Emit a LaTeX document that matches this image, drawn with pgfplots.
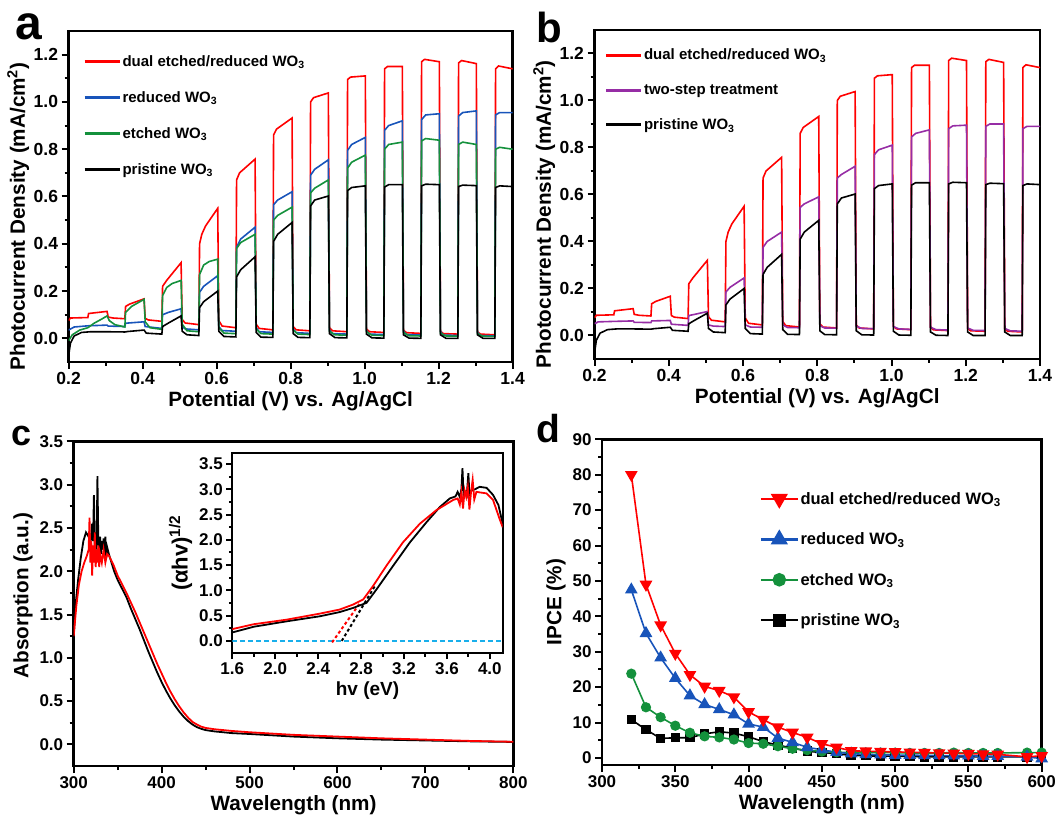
\documentclass[border=0pt]{standalone}
\usepackage{fontspec}
\setmainfont{Liberation Sans}
\usepackage{pgfplots}
\usepackage{pgfplotstable}
\pgfplotsset{compat=1.18}
\definecolor{cred}{RGB}{255,0,0}
\definecolor{cblue}{RGB}{24,84,186}
\definecolor{cgreen}{RGB}{20,145,60}
\definecolor{cpurple}{RGB}{150,45,165}
\definecolor{ccyan}{RGB}{25,175,235}
\newcommand{\fs}[1]{\fontsize{#1}{#1}\selectfont\bfseries}

\pgfplotstableread{
x y
0.200 0.075
0.205 0.086
0.252 0.088
0.254 0.105
0.270 0.108
0.304 0.114
0.307 0.090
0.320 0.086
0.352 0.083
0.354 0.135
0.365 0.145
0.404 0.167
0.407 0.085
0.415 0.078
0.452 0.072
0.454 0.220
0.465 0.245
0.504 0.320
0.507 0.080
0.515 0.065
0.552 0.058
0.554 0.400
0.560 0.440
0.570 0.475
0.603 0.550
0.606 0.075
0.615 0.052
0.652 0.045
0.654 0.670
0.662 0.700
0.704 0.758
0.707 0.060
0.715 0.042
0.752 0.036
0.754 0.860
0.762 0.885
0.804 0.932
0.807 0.050
0.815 0.036
0.852 0.032
0.854 1.000
0.862 1.018
0.902 1.038
0.905 0.045
0.913 0.032
0.952 0.028
0.954 1.095
0.962 1.105
1.002 1.110
1.005 0.040
1.013 0.028
1.052 0.025
1.054 1.140
1.062 1.150
1.102 1.150
1.105 0.035
1.113 0.024
1.152 0.021
1.154 1.170
1.162 1.180
1.202 1.170
1.205 0.030
1.213 0.020
1.252 0.018
1.254 1.165
1.262 1.175
1.302 1.162
1.305 0.028
1.313 0.018
1.352 0.015
1.354 1.140
1.362 1.152
1.400 1.140
}\dualtab

\pgfplotstableread{
x y
0.200 0.035
0.215 0.048
0.252 0.053
0.304 0.056
0.307 0.052
0.352 0.050
0.354 0.064
0.404 0.070
0.407 0.050
0.452 0.042
0.454 0.100
0.470 0.110
0.504 0.125
0.507 0.050
0.515 0.040
0.552 0.036
0.554 0.195
0.565 0.220
0.603 0.265
0.606 0.050
0.615 0.033
0.652 0.030
0.654 0.385
0.665 0.420
0.704 0.470
0.707 0.045
0.715 0.028
0.752 0.025
0.754 0.565
0.765 0.585
0.804 0.620
0.807 0.040
0.815 0.024
0.852 0.021
0.854 0.690
0.865 0.715
0.902 0.755
0.905 0.035
0.913 0.020
0.952 0.018
0.954 0.795
0.965 0.820
1.002 0.850
1.005 0.032
1.013 0.018
1.052 0.016
1.054 0.880
1.065 0.900
1.102 0.920
1.105 0.030
1.113 0.016
1.152 0.014
1.154 0.925
1.165 0.945
1.202 0.950
1.205 0.028
1.213 0.014
1.252 0.012
1.254 0.940
1.265 0.955
1.302 0.962
1.305 0.025
1.313 0.012
1.352 0.010
1.354 0.945
1.365 0.955
1.400 0.955
}\redtab

\pgfplotstableread{
x y
0.200 -0.010
0.210 0.015
0.230 0.035
0.252 0.045
0.270 0.065
0.290 0.082
0.304 0.095
0.310 0.075
0.325 0.058
0.352 0.048
0.354 0.110
0.370 0.135
0.404 0.165
0.407 0.070
0.420 0.045
0.452 0.038
0.454 0.180
0.465 0.215
0.480 0.232
0.504 0.245
0.507 0.060
0.520 0.032
0.552 0.028
0.554 0.270
0.565 0.310
0.580 0.325
0.603 0.335
0.606 0.045
0.620 0.022
0.652 0.020
0.654 0.380
0.665 0.405
0.704 0.440
0.707 0.040
0.720 0.020
0.752 0.018
0.754 0.500
0.765 0.520
0.804 0.555
0.807 0.035
0.820 0.018
0.852 0.016
0.854 0.615
0.865 0.635
0.902 0.670
0.905 0.030
0.920 0.015
0.952 0.013
0.954 0.720
0.965 0.745
1.002 0.775
1.005 0.028
1.020 0.013
1.052 0.012
1.054 0.800
1.065 0.820
1.102 0.830
1.105 0.025
1.120 0.011
1.152 0.010
1.154 0.835
1.165 0.845
1.202 0.838
1.205 0.022
1.220 0.010
1.252 0.009
1.254 0.820
1.265 0.830
1.302 0.820
1.305 0.020
1.320 0.009
1.352 0.008
1.354 0.800
1.365 0.808
1.400 0.800
}\etchtab

\pgfplotstableread{
x y
0.200 -0.075
0.205 -0.020
0.215 0.010
0.235 0.025
0.260 0.028
0.300 0.028
0.352 0.027
0.360 0.029
0.404 0.035
0.410 0.022
0.452 0.018
0.454 0.050
0.470 0.065
0.504 0.095
0.507 0.030
0.520 0.015
0.552 0.012
0.554 0.130
0.565 0.155
0.603 0.200
0.606 0.030
0.620 0.008
0.652 0.006
0.654 0.260
0.665 0.290
0.704 0.345
0.707 0.025
0.720 0.005
0.752 0.004
0.754 0.410
0.765 0.440
0.804 0.490
0.807 0.020
0.820 0.004
0.852 0.003
0.854 0.560
0.865 0.585
0.902 0.602
0.905 0.020
0.920 0.003
0.952 0.002
0.954 0.625
0.965 0.638
1.002 0.645
1.005 0.018
1.020 0.002
1.052 0.001
1.054 0.640
1.065 0.650
1.102 0.650
1.105 0.015
1.120 0.001
1.152 0.000
1.154 0.645
1.165 0.652
1.202 0.650
1.205 0.015
1.220 0.000
1.252 0.000
1.254 0.642
1.265 0.648
1.302 0.646
1.305 0.015
1.320 0.000
1.352 0.000
1.354 0.638
1.365 0.645
1.400 0.642
}\pristab

\pgfplotstableread{
x y
0.200 0.050
0.210 0.058
0.252 0.060
0.304 0.062
0.307 0.056
0.352 0.055
0.354 0.062
0.404 0.064
0.407 0.048
0.452 0.043
0.454 0.085
0.470 0.090
0.504 0.102
0.507 0.045
0.520 0.040
0.552 0.038
0.554 0.185
0.565 0.205
0.603 0.245
0.606 0.045
0.620 0.036
0.652 0.035
0.654 0.375
0.665 0.400
0.704 0.440
0.707 0.045
0.720 0.034
0.752 0.033
0.754 0.545
0.765 0.560
0.804 0.590
0.807 0.042
0.820 0.032
0.852 0.031
0.854 0.670
0.865 0.685
0.902 0.720
0.905 0.040
0.920 0.030
0.952 0.029
0.954 0.770
0.965 0.790
1.002 0.810
1.005 0.038
1.020 0.028
1.052 0.026
1.054 0.845
1.065 0.860
1.102 0.875
1.105 0.035
1.120 0.025
1.152 0.023
1.154 0.880
1.165 0.892
1.202 0.895
1.205 0.032
1.220 0.022
1.252 0.021
1.254 0.890
1.265 0.900
1.302 0.900
1.305 0.030
1.320 0.020
1.352 0.018
1.354 0.880
1.365 0.890
1.400 0.890
}\twotab

\pgfplotstableread{
x y
300 1.25
302 1.60
305 1.90
308 2.15
311 2.35
314 2.45
317 2.40
319 2.30
321 2.55
322 2.35
323 2.88
324 2.30
325 2.45
326 2.25
327 3.10
328 2.35
329 2.28
330 2.40
331 2.20
332 2.35
333 2.25
334 2.38
335 2.18
336 2.40
337 2.15
338 2.28
340 2.20
343 2.10
346 2.00
350 1.90
355 1.80
360 1.70
365 1.57
370 1.45
375 1.33
380 1.20
385 1.07
390 0.95
395 0.83
400 0.72
405 0.62
410 0.53
415 0.45
420 0.38
425 0.32
430 0.27
435 0.23
440 0.20
445 0.18
450 0.165
460 0.15
480 0.13
500 0.12
550 0.09
600 0.07
650 0.055
700 0.045
750 0.035
800 0.028
}\absblack

\pgfplotstableread{
x y
300 1.25
303 1.60
306 1.85
309 2.00
312 2.10
315 2.18
317 2.25
318 2.62
319 2.10
320 2.35
321 1.95
322 2.30
323 2.10
324 2.45
325 2.05
326 2.25
327 2.10
328 2.30
329 2.05
330 2.20
332 2.10
334 2.25
336 2.10
338 2.20
340 2.18
345 2.08
350 1.95
355 1.85
360 1.75
365 1.64
370 1.53
375 1.41
380 1.29
385 1.17
390 1.05
395 0.93
400 0.82
405 0.71
410 0.61
415 0.52
420 0.44
425 0.37
430 0.31
435 0.26
440 0.23
445 0.205
450 0.19
460 0.175
480 0.155
500 0.14
550 0.11
600 0.09
650 0.07
700 0.055
750 0.04
800 0.03
}\absred

\pgfplotstableread{
x y
1.60 0.167
1.80 0.28
2.106 0.387
2.416 0.487
2.60 0.57
2.727 0.653
2.851 0.753
2.944 1.02
3.10 1.49
3.255 1.95
3.41 2.35
3.534 2.65
3.627 2.82
3.68 2.86
3.70 2.95
3.72 2.85
3.735 3.00
3.745 3.42
3.755 2.90
3.77 2.95
3.785 2.88
3.80 3.32
3.81 2.90
3.83 2.98
3.86 3.00
3.906 3.05
3.97 3.03
4.03 2.89
4.08 2.69
4.12 2.32
}\insblack

\pgfplotstableread{
x y
1.60 0.233
1.80 0.33
2.106 0.42
2.416 0.54
2.60 0.62
2.727 0.72
2.82 0.82
2.913 1.09
3.037 1.49
3.19 1.95
3.348 2.32
3.503 2.59
3.658 2.79
3.70 2.82
3.72 2.70
3.735 2.95
3.75 2.62
3.765 2.98
3.78 2.85
3.795 3.05
3.81 2.60
3.825 2.95
3.84 3.19
3.855 2.80
3.875 2.95
3.97 2.92
4.03 2.79
4.09 2.42
4.12 2.25
}\insred

\pgfplotsset{
  panel/.style={
    scale only axis, anchor=south west,
    axis line style={line width=2.6pt},
    tick pos=left, tick align=outside,
    major tick length=7pt, minor tick length=4pt,
    tick style={black, line width=2pt},
    minor x tick num=1, minor y tick num=1,
    tick label style={font=\fs{17.5}},
    /pgf/number format/assume math mode=true,
    xlabel style={font=\fs{20.7}},
    ylabel style={font=\fs{20.7}},
    legend cell align=left,
    legend style={draw=none, fill=none, font=\fs{15}, inner sep=0pt, nodes={inner sep=1.5pt}},
  },
  onedec/.style={
    xticklabel style={/pgf/number format/fixed, /pgf/number format/fixed zerofill, /pgf/number format/precision=1},
  },
  onedecy/.style={
    yticklabel style={/pgf/number format/fixed, /pgf/number format/fixed zerofill, /pgf/number format/precision=1},
  },
  jv/.style={panel, onedec, onedecy,
    xmin=0.2, xmax=1.4, ymin=-0.1, ymax=1.3,
    xtick={0.2,0.4,0.6,0.8,1.0,1.2,1.4},
    ytick={0,0.2,0.4,0.6,0.8,1.0,1.2},
    xlabel={Potential (V) vs. Ag/AgCl},
    ylabel={Photocurrent Density (mA/cm\textsuperscript{2})},
    ylabel style={at={(ticklabel cs:0.44)}, inner sep=1pt},
    legend image code/.code={\draw[##1, line width=3pt] (0pt,0pt) -- (35pt,0pt);},
  },
}

\begin{document}
\begin{tikzpicture}
\useasboundingbox (0,0) rectangle (1056pt,824pt);

% ---------- panel a ----------
\begin{axis}[jv, at={(68.6pt,462pt)}, width=444pt, height=331pt,
  legend style={at={(axis description cs:0.032,0.932)}, anchor=north west, row sep=20.7pt}]
\addplot[cred, line width=1.6pt] table[x=x,y=y] {\dualtab};
\addlegendentry{dual etched/reduced WO\textsubscript{3}}
\addplot[cblue, line width=1.6pt] table[x=x,y=y] {\redtab};
\addlegendentry{reduced WO\textsubscript{3}}
\addplot[cgreen, line width=1.6pt] table[x=x,y=y] {\etchtab};
\addlegendentry{etched WO\textsubscript{3}}
\addplot[black, line width=1.6pt] table[x=x,y=y] {\pristab};
\addlegendentry{pristine WO\textsubscript{3}}
\end{axis}

% ---------- panel b ----------
\begin{axis}[jv, at={(594.5pt,465pt)}, width=445.5pt, height=329pt,
  legend style={at={(axis description cs:0.022,0.947)}, anchor=north west, row sep=20pt}]
\addplot[cred, line width=1.6pt] table[x=x,y=y] {\dualtab};
\addlegendentry{dual etched/reduced WO\textsubscript{3}}
\addplot[cpurple, line width=1.6pt] table[x=x,y=y] {\twotab};
\addlegendentry{two-step treatment}
\addplot[black, line width=1.6pt] table[x=x,y=y] {\pristab};
\addlegendentry{pristine WO\textsubscript{3}}
\end{axis}

% ---------- panel c ----------
\begin{axis}[panel, onedecy, at={(73.7pt,58pt)}, width=439.6pt, height=324.5pt,
  xmin=300, xmax=800, ymin=-0.25, ymax=3.5,
  xtick={300,400,500,600,700,800},
  ytick={0,0.5,1.0,1.5,2.0,2.5,3.0,3.5},
  tick label style={font=\fs{17}},
  ylabel style={at={(ticklabel cs:0.525)}},
  xlabel={Wavelength (nm)}, ylabel={Absorption (a.u.)}]
\addplot[black, line width=1.8pt] table[x=x,y=y] {\absblack};
\addplot[cred, line width=1.8pt] table[x=x,y=y] {\absred};
\end{axis}

% ---------- inset ----------
\begin{axis}[panel, onedec, onedecy, at={(232.3pt,171pt)}, width=270.4pt, height=200pt,
  xmin=1.6, xmax=4.12, ymin=-0.24, ymax=3.72,
  xtick={1.6,2.0,2.4,2.8,3.2,3.6,4.0},
  ytick={0,0.5,1.0,1.5,2.0,2.5,3.0,3.5},
  axis line style={line width=2.3pt},
  major tick length=6pt, minor tick length=3.5pt,
  tick label style={font=\fs{17}},
  xlabel style={font=\fs{19}}, ylabel style={font=\fs{22}},
  xlabel={hv (eV)}, ylabel={(αhv)\textsuperscript{1/2}}]
\addplot[ccyan, line width=2pt, dash pattern=on 5pt off 3pt] coordinates {(1.6,0) (4.12,0)};
\addplot[cred, line width=2pt, dash pattern=on 3pt off 2.5pt] coordinates {(2.53,-0.03) (2.79,0.75)};
\addplot[black, line width=2pt, dash pattern=on 3pt off 2.5pt] coordinates {(2.62,0.0) (2.93,1.09)};
\addplot[black, line width=1.8pt] table[x=x,y=y] {\insblack};
\addplot[cred, line width=1.8pt] table[x=x,y=y] {\insred};
\end{axis}

% ---------- panel d ----------
\begin{axis}[panel, at={(602pt,59pt)}, width=439.7pt, height=325.7pt,
  xmin=300, xmax=600, ymin=-2, ymax=90,
  xtick={300,350,400,450,500,550,600},
  ytick={0,10,20,30,40,50,60,70,80,90},
  tick label style={font=\fs{17}},
  xlabel={Wavelength (nm)}, ylabel={IPCE (\%)},
  reverse legend,
  legend style={at={(axis description cs:0.358,0.843)}, anchor=north west, row sep=24pt, font=\fs{16.5}},
  legend image code/.code={\draw[#1, line width=2.4pt, mark repeat=2, mark phase=2, every mark/.append style={scale=1.3}] plot coordinates {(0pt,0pt) (18.5pt,0pt) (37pt,0pt)};}]
\addplot[black, line width=1.6pt, mark=square*, mark size=3.9pt] coordinates {
(320,10.8) (330,8.0) (340,5.5) (350,5.7) (360,5.7) (370,6.8) (380,7.4) (390,7.0) (400,6.0) (410,4.6) (420,3.6) (430,2.8) (440,1.9) (450,1.5) (460,1.2) (470,0.7) (480,0.6) (490,0.5) (500,0.5) (510,0.4) (520,0.3) (530,0.3) (540,0.3) (550,0.3) (560,0.3) (570,0.3) (590,0.3) (600,0.3)};
\addlegendentry{pristine WO\textsubscript{3}}
\addplot[cgreen, line width=1.6pt, mark=*, mark size=4.3pt] coordinates {
(320,23.8) (330,14.3) (340,11.5) (350,9.1) (360,7.1) (370,6.1) (380,5.8) (390,5.2) (400,4.2) (410,4.0) (420,3.3) (430,2.6) (440,2.2) (450,1.8) (460,1.6) (470,1.5) (480,1.5) (490,1.5) (500,1.5) (510,1.4) (520,1.4) (530,1.4) (540,1.5) (550,1.4) (560,1.4) (570,1.4) (590,1.5) (600,1.5)};
\addlegendentry{etched WO\textsubscript{3}}
\addplot[cblue, line width=1.6pt, mark=triangle*, mark size=5.8pt] coordinates {
(320,47.5) (330,35.2) (340,28.3) (350,22.5) (360,17.6) (370,15.1) (380,13.7) (390,12.2) (400,9.6) (410,8.7) (420,5.6) (430,4.4) (440,3.0) (450,2.3) (460,1.6) (470,1.2) (480,1.0) (490,0.9) (500,0.8) (510,0.8) (520,0.7) (530,0.7) (540,0.6) (550,0.6) (560,0.5) (570,0.5) (590,0.3) (600,-0.2)};
\addlegendentry{reduced WO\textsubscript{3}}
\addplot[cred, line width=1.6pt, mark=triangle*, mark size=5.8pt, mark options={rotate=180}] coordinates {
(320,80) (330,49) (340,37.5) (350,29.5) (360,23.5) (370,20.2) (380,19.0) (390,17.2) (400,13.0) (410,10.8) (420,8.7) (430,7.2) (440,5.8) (450,4.0) (460,3.0) (470,2.0) (480,1.9) (490,1.8) (500,1.7) (510,1.6) (520,1.5) (530,1.4) (540,1.3) (550,1.2) (560,1.1) (570,1.0) (590,0.3) (600,0.6)};
\addlegendentry{dual etched/reduced WO\textsubscript{3}}
\end{axis}

% panel letters
\node[font=\fs{48}, inner sep=0pt] at (29pt,797pt) {a};
\node[font=\fs{42}, inner sep=0pt] at (549pt,797pt) {b};
\node[font=\fs{36}, inner sep=0pt] at (22pt,388pt) {c};
\node[font=\fs{39}, inner sep=0pt] at (548pt,395pt) {d};
\end{tikzpicture}
\end{document}
